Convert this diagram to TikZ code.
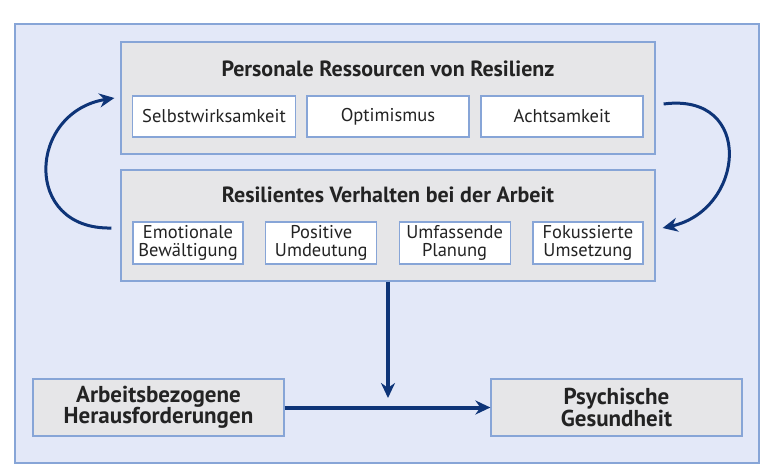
\documentclass[tikz,border=0pt]{standalone}
\usepackage{fontspec}
\setmainfont{PT Sans}
\usepackage{tikz}
\usetikzlibrary{positioning,arrows.meta}

\definecolor{framefill}{RGB}{227,232,248}
\definecolor{frameline}{RGB}{135,165,215}
\definecolor{boxfill}{RGB}{230,230,232}
\definecolor{arrowblue}{RGB}{14,52,120}
\definecolor{textgray}{RGB}{35,35,35}

\tikzset{
  groupbox/.style={draw=frameline,fill=boxfill,line width=1.2pt,inner sep=0pt,
    minimum width=534pt,minimum height=112pt},
  itembox/.style={draw=frameline,fill=white,line width=1.2pt,inner sep=0pt,
    minimum height=41pt,align=center,text=textgray,
    font=\fontsize{18.5}{17.5}\selectfont},
  headline/.style={text=textgray,font=\fontsize{22}{24}\selectfont\bfseries},
  endbox/.style={draw=frameline,fill=boxfill,line width=1.2pt,inner sep=0pt,
    minimum width=251pt,minimum height=57pt,align=center,text=textgray,
    font=\fontsize{23}{21.5}\selectfont\bfseries},
  loop/.style={draw=arrowblue,line width=3pt,->},
  flow/.style={draw=arrowblue,line width=4pt,->}
}

\begin{document}
\begin{tikzpicture}[x=1pt,y=-1pt,node distance=174pt,on grid,
    >={Stealth[length=15pt,width=14pt]}]
   \useasboundingbox (0,0) rectangle (762,470);
   \node[draw=frameline,fill=framefill,line width=1.2pt,inner sep=0pt,
     minimum width=744pt,minimum height=439pt] (frame) at (387,243.5) {};

   % personale Ressourcen
   \node[groupbox] (res) at (388,98) {};
   \node[headline] (res_t) at (388,69) {Personale Ressourcen von Resilienz};
   \node[itembox, minimum width=162pt] (opt) at (388,116.5) {Optimismus};
   \node[itembox, minimum width=163pt] (self) [left=of opt] {Selbstwirksamkeit};
   \node[itembox, minimum width=162pt] (acht) [right=of opt] {Achtsamkeit};

   % resilientes Verhalten
   \node[groupbox, minimum height=111pt] (beh) at (388,225.5) {};
   \node[headline] (beh_t) at (388,195) {Resilientes Verhalten bei der Arbeit};
   \node[itembox, minimum width=110pt, minimum height=42pt] (emo) at (188,243) {Emotionale\\Bewältigung};
   \node[itembox, minimum width=111pt, minimum height=42pt] (pos) [right=133.3pt of emo] {Positive\\Umdeutung};
   \node[itembox, minimum width=111pt, minimum height=42pt] (plan) [right=133.3pt of pos] {Umfassende\\Planung};
   \node[itembox, minimum width=110pt, minimum height=42pt] (fok) [right=133.3pt of plan] {Fokussierte\\Umsetzung};

   % unten
   \node[endbox] (work) at (158.5,407.5) {Arbeitsbezogene\\Herausforderungen};
   \node[endbox] (health) at (616.5,407.5) {Psychische\\Gesundheit};
   \coordinate (join) at (388,398);

   \path[loop] ([xshift=-9pt,yshift=-2.5pt]beh.west)
     .. controls (22,230) and (28,112) .. ([xshift=-6pt]res.west);
   \path[loop] ([xshift=8pt,yshift=-6pt]res.east)
     .. controls (755,92) and (745,210) .. ([xshift=7pt,yshift=-2.5pt]beh.east);
   \path[flow] (beh.south) -- (join);
   \path[flow] (work.east) -- (health.west);
\end{tikzpicture}
\end{document}
